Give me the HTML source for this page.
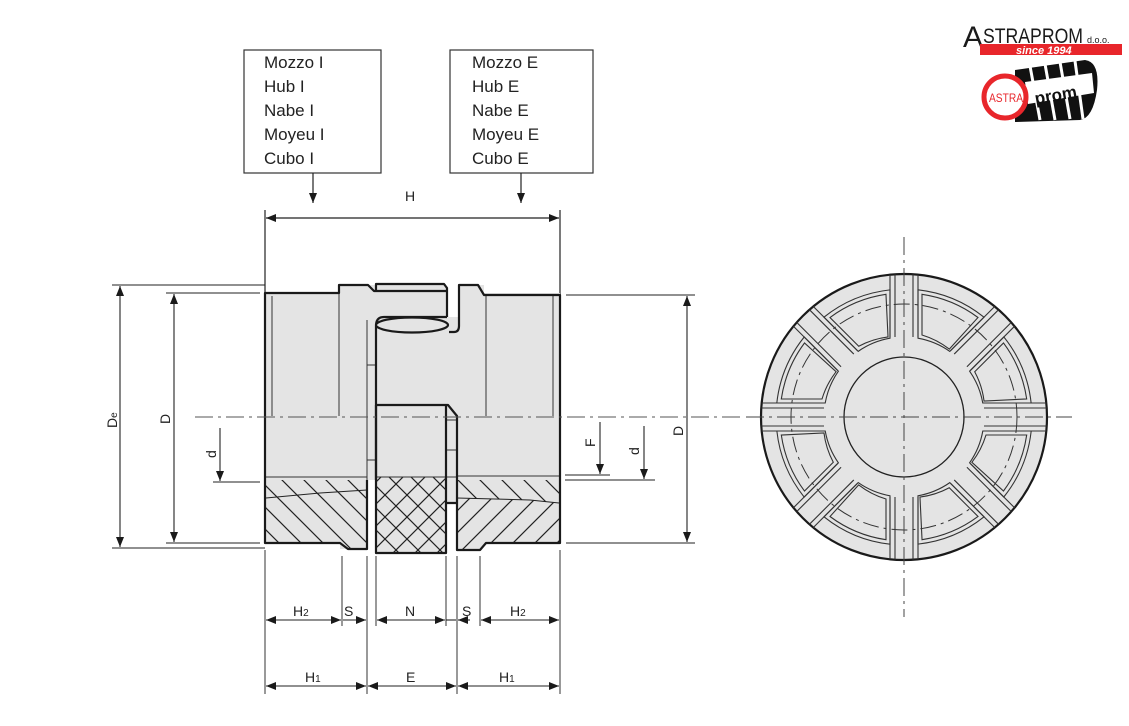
<!DOCTYPE html>
<html><head><meta charset="utf-8"><style>
html,body{margin:0;padding:0;background:#fff;}
svg{display:block;font-family:"Liberation Sans",Arial,sans-serif;}
</style></head><body>
<svg width="1129" height="726" viewBox="0 0 1129 726" xmlns="http://www.w3.org/2000/svg">
<defs>
<marker id="a" viewBox="0 0 10 8" refX="10" refY="4" markerWidth="11" markerHeight="8" markerUnits="userSpaceOnUse" orient="auto-start-reverse"><path d="M0,0 L10,4 L0,8 Z" fill="#1a1a1a"/></marker>
<pattern id="h1" width="22" height="22" patternUnits="userSpaceOnUse"><path d="M-4,-4 L26,26 M-4,18 L4,26 M18,-4 L26,4" stroke="#222" stroke-width="1.2"/></pattern>
<pattern id="h2" width="22" height="22" patternUnits="userSpaceOnUse"><path d="M-4,26 L26,-4 M-4,4 L4,-4 M18,26 L26,18" stroke="#222" stroke-width="1.2"/></pattern>
<clipPath id="cc"><circle cx="0" cy="0" r="143"/></clipPath>
<g id="sp">
<line x1="80" y1="9" x2="150" y2="9"/><line x1="80" y1="-9" x2="150" y2="-9"/>
<line x1="80" y1="14" x2="150" y2="14"/><line x1="80" y1="-14" x2="150" y2="-14"/>
<path d="M78.8,14 L127.2,14 A128 128 0 0 1 99.8,80 L65.6,45.8 A80 80 0 0 0 78.8,14 Z"/>
<path d="M82,18 L122.7,18 A124 124 0 0 1 99.5,74 L67.9,45.3 A84 84 0 0 0 82,18 Z"/>
</g>
</defs>

<g fill="none" stroke="#333" stroke-width="1.2">
<rect x="244" y="50" width="137" height="123"/>
<rect x="450" y="50" width="143" height="123"/>
</g>
<g font-size="17" fill="#222">
<text x="264" y="68">Mozzo I</text><text x="264" y="92">Hub I</text><text x="264" y="116">Nabe I</text><text x="264" y="140">Moyeu I</text><text x="264" y="164">Cubo I</text>
<text x="472" y="68">Mozzo E</text><text x="472" y="92">Hub E</text><text x="472" y="116">Nabe E</text><text x="472" y="140">Moyeu E</text><text x="472" y="164">Cubo E</text>
</g>
<g stroke="#222" stroke-width="1.2" fill="none">
<line x1="313" y1="173" x2="313" y2="203" marker-end="url(#a)"/>
<line x1="521" y1="173" x2="521" y2="203" marker-end="url(#a)"/>
<line x1="266" y1="218" x2="559" y2="218" marker-start="url(#a)" marker-end="url(#a)"/>
<line x1="265" y1="210" x2="265" y2="293"/><line x1="560" y1="210" x2="560" y2="295"/>
</g>
<text x="405" y="201" font-size="14" fill="#222">H</text>

<g fill="#e4e4e4">
<rect x="265" y="293" width="295" height="250"/>
<rect x="339" y="285" width="37" height="10"/>
<rect x="376" y="284" width="70" height="10"/>
<rect x="459" y="285" width="25" height="12"/>
<rect x="376" y="540" width="70" height="13"/>
<rect x="340" y="540" width="27" height="9"/>
<rect x="457" y="540" width="25" height="10"/>
</g>
<g fill="#fff">
<rect x="447" y="284" width="12" height="33"/>
<rect x="367" y="480" width="9" height="75"/>
<rect x="446" y="503" width="11" height="52"/>
</g>
<path d="M266,480 H367 V549 H348 L340,543 H266 Z" fill="url(#h1)"/>
<rect x="376" y="477" width="70" height="76" fill="url(#h1)"/>
<rect x="376" y="477" width="70" height="76" fill="url(#h2)"/>
<path d="M457,480 H559 V543 H486 L480,550 H457 Z" fill="url(#h1)"/>
<path d="M457,498 L530,500 L559,503 V543 H486 L480,550 H457 Z" fill="#e4e4e4"/>
<path d="M457,498 L530,500 L559,503 V543 H486 L480,550 H457 Z" fill="url(#h2)"/>
<path d="M457,498 L530,500 L559,503" fill="none" stroke="#222" stroke-width="1"/>
<path d="M266,498 L320,493 L367,490" fill="none" stroke="#222" stroke-width="1"/>

<g stroke="#333" stroke-width="1" fill="none">
<line x1="272" y1="296" x2="272" y2="416"/>
<line x1="339" y1="293" x2="339" y2="416"/>
<line x1="486" y1="296" x2="486" y2="416"/>
<line x1="553" y1="296" x2="553" y2="416"/>
<line x1="265" y1="477" x2="367" y2="477"/>
<line x1="457" y1="476" x2="560" y2="476"/>
<line x1="367" y1="320" x2="367" y2="480"/>
<line x1="367" y1="365" x2="376" y2="365"/><line x1="367" y1="460" x2="376" y2="460"/>
<line x1="446" y1="420" x2="457" y2="420"/><line x1="446" y1="450" x2="457" y2="450"/><line x1="446" y1="477" x2="457" y2="477"/>
<line x1="376" y1="477" x2="446" y2="477"/>
</g>
<g stroke="#1a1a1a" stroke-width="2.2" fill="none" stroke-linejoin="round">
<path d="M367,480 V549 H348 L340,543 H265 V293 H339 V285 H368 L374,291 H447"/>
<path d="M376,291 V284 H444 L447,288 V317"/>
<path d="M447,317 H384 Q376,317 376,326 V480"/>
<ellipse cx="412" cy="325" rx="36" ry="7.5" fill="#e4e4e4"/>
<path d="M449,332 H454 Q459,332 459,326 V285 H478 L484,295 H560 V543 H486 L480,550 H457 V503 H446"/>
<path d="M376,405 H448 L457,416 V503"/>
<path d="M376,480 V553 H446 V405"/>
<line x1="376" y1="405" x2="376" y2="480"/>
</g>

<line x1="195" y1="417" x2="740" y2="417" stroke="#555" stroke-width="1" stroke-dasharray="18 5 3 5"/>

<g stroke="#222" stroke-width="1.1" fill="none">
<line x1="112" y1="285" x2="265" y2="285"/><line x1="112" y1="548" x2="265" y2="548"/>
<line x1="120" y1="286" x2="120" y2="547" marker-start="url(#a)" marker-end="url(#a)"/>
<line x1="166" y1="293" x2="260" y2="293"/><line x1="166" y1="543" x2="260" y2="543"/>
<line x1="174" y1="294" x2="174" y2="542" marker-start="url(#a)" marker-end="url(#a)"/>
<line x1="213" y1="482" x2="260" y2="482"/>
<line x1="220" y1="428" x2="220" y2="481" marker-end="url(#a)"/>
<line x1="566" y1="295" x2="695" y2="295"/><line x1="566" y1="543" x2="695" y2="543"/>
<line x1="687" y1="296" x2="687" y2="542" marker-start="url(#a)" marker-end="url(#a)"/>
<line x1="565" y1="475" x2="610" y2="475"/><line x1="565" y1="480" x2="655" y2="480"/>
<line x1="600" y1="422" x2="600" y2="474" marker-end="url(#a)"/>
<line x1="644" y1="426" x2="644" y2="479" marker-end="url(#a)"/>
</g>
<g font-size="14" fill="#222">
<text transform="translate(117,428) rotate(-90)">D<tspan font-size="10">e</tspan></text>
<text transform="translate(170,424) rotate(-90)">D</text>
<text transform="translate(216,458) rotate(-90)">d</text>
<text transform="translate(595,447) rotate(-90)">F</text>
<text transform="translate(639,455) rotate(-90)">d</text>
<text transform="translate(683,436) rotate(-90)">D</text>
</g>

<g stroke="#333" stroke-width="1" fill="none">
<line x1="265" y1="550" x2="265" y2="694"/>
<line x1="342" y1="556" x2="342" y2="626"/>
<line x1="367" y1="556" x2="367" y2="694"/>
<line x1="376" y1="556" x2="376" y2="626"/>
<line x1="446" y1="556" x2="446" y2="626"/>
<line x1="457" y1="556" x2="457" y2="694"/>
<line x1="480" y1="556" x2="480" y2="626"/>
<line x1="560" y1="550" x2="560" y2="694"/>
</g>
<g stroke="#222" stroke-width="1.1" fill="none">
<line x1="266" y1="620" x2="341" y2="620" marker-start="url(#a)" marker-end="url(#a)"/>
<line x1="343" y1="620" x2="366" y2="620" marker-end="url(#a)"/>
<line x1="377" y1="620" x2="445" y2="620" marker-start="url(#a)" marker-end="url(#a)"/>
<line x1="446" y1="620" x2="456" y2="620"/>
<line x1="458" y1="620" x2="470" y2="620" marker-start="url(#a)"/>
<line x1="481" y1="620" x2="559" y2="620" marker-start="url(#a)" marker-end="url(#a)"/>
<line x1="266" y1="686" x2="366" y2="686" marker-start="url(#a)" marker-end="url(#a)"/>
<line x1="368" y1="686" x2="456" y2="686" marker-start="url(#a)" marker-end="url(#a)"/>
<line x1="458" y1="686" x2="559" y2="686" marker-start="url(#a)" marker-end="url(#a)"/>
</g>
<g font-size="14" fill="#222">
<text x="293" y="616">H<tspan font-size="10">2</tspan></text>
<text x="344" y="616">S</text>
<text x="405" y="616">N</text>
<text x="462" y="616">S</text>
<text x="510" y="616">H<tspan font-size="10">2</tspan></text>
<text x="305" y="682">H<tspan font-size="10">1</tspan></text>
<text x="406" y="682">E</text>
<text x="499" y="682">H<tspan font-size="10">1</tspan></text>
</g>

<g transform="translate(904,417)">
<circle r="143" fill="#e4e4e4" stroke="#1a1a1a" stroke-width="2.2"/>
<circle r="113" fill="none" stroke="#333" stroke-width="1" stroke-dasharray="16 5 3 5"/>
<g clip-path="url(#cc)" stroke="#333" stroke-width="1.1" fill="none">
<use href="#sp"/>
<use href="#sp" transform="rotate(45)"/>
<use href="#sp" transform="rotate(90)"/>
<use href="#sp" transform="rotate(135)"/>
<use href="#sp" transform="rotate(180)"/>
<use href="#sp" transform="rotate(225)"/>
<use href="#sp" transform="rotate(270)"/>
<use href="#sp" transform="rotate(315)"/>
</g>
<circle r="60" fill="#e4e4e4" stroke="#222" stroke-width="1.3"/>
<line x1="-158" y1="0" x2="168" y2="0" stroke="#444" stroke-width="1" stroke-dasharray="18 5 3 5"/>
<line x1="0" y1="-180" x2="0" y2="200" stroke="#444" stroke-width="1" stroke-dasharray="18 5 3 5"/>
</g>

<g>
<text x="963" y="47" font-size="30" fill="#1a1a1a">A</text>
<text x="983" y="43" font-size="21" fill="#1a1a1a" textLength="100" lengthAdjust="spacingAndGlyphs">STRAPROM</text>
<text x="1087" y="43" font-size="9" fill="#1a1a1a">d.o.o.</text>
<rect x="980" y="44" width="142" height="11" fill="#e8262b"/>
<text x="1016" y="54" font-size="11" font-style="italic" font-weight="bold" fill="#fff">since 1994</text>
<path d="M1015,70 L1085,60 Q1100,62 1097,90 Q1093,118 1080,120 L1015,122 Z" fill="#111"/>
<g stroke="#fff" stroke-width="3">
<line x1="1030" y1="66" x2="1040" y2="120"/><line x1="1045" y1="64" x2="1055" y2="120"/><line x1="1060" y1="62" x2="1070" y2="119"/><line x1="1075" y1="61" x2="1083" y2="119"/>
</g>
<path d="M1025,82 L1092,73 L1094,93 L1028,104 Z" fill="#fff"/>
<text x="1034" y="100" font-size="17" font-weight="bold" fill="#111" transform="rotate(-10 1060 92)">prom</text>
<circle cx="1005" cy="97" r="21" fill="#fff" stroke="#e8262b" stroke-width="5"/>
<text x="989" y="102" font-size="12" fill="#e8262b" textLength="34" lengthAdjust="spacingAndGlyphs">ASTRA</text>
</g>
</svg>
</body></html>
